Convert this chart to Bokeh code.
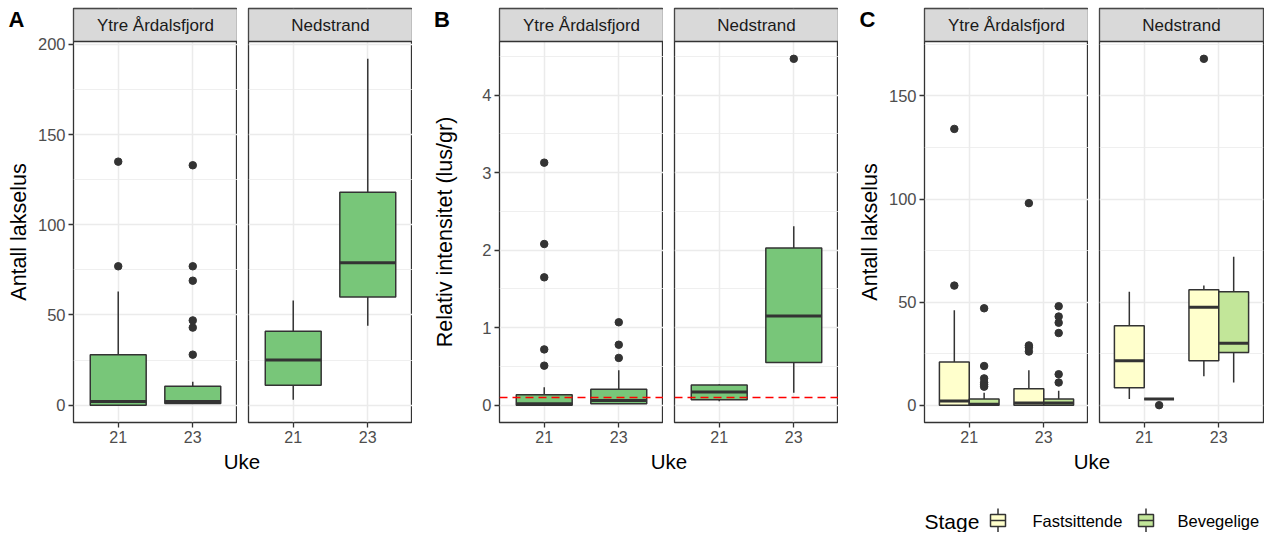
import math
from bokeh.plotting import figure
from bokeh.layouts import row, column
from bokeh.models import Range1d, FixedTicker, LinearAxis, Grid, ColumnDataSource, Span
from bokeh.core.properties import value
from bokeh.embed import file_html
from bokeh.resources import INLINE

FONT = "Liberation Sans"

# ---------------- data ----------------
FACETS = ["Ytre Årdalsfjord", "Nedstrand"]
WEEKS = ["21", "23"]
STAGES = ["Fastsittende", "Bevegelige"]

# Panel A: Antall lakselus
a_facet = ["Ytre Årdalsfjord", "Ytre Årdalsfjord", "Nedstrand", "Nedstrand"]
a_week = ["21", "23", "21", "23"]
a_lower = [0, 1, 3, 44]
a_q1 = [0, 1, 11, 60]
a_median = [2, 2, 25, 79]
a_q3 = [28, 10.5, 41, 118]
a_upper = [63, 13, 58, 192]
a_out_facet = ["Ytre Årdalsfjord"] * 8
a_out_week = ["21", "21", "23", "23", "23", "23", "23", "23"]
a_out_value = [77, 135, 28, 43, 47, 69, 77, 133]
a_yticks = [0, 50, 100, 150, 200]
a_yminor = [25, 75, 125, 175]

# Panel B: Relativ intensitet (lus/gr)
b_facet = ["Ytre Årdalsfjord", "Ytre Årdalsfjord", "Nedstrand", "Nedstrand"]
b_week = ["21", "23", "21", "23"]
b_lower = [0, 0.02, 0.05, 0.16]
b_q1 = [0, 0.02, 0.07, 0.55]
b_median = [0.02, 0.06, 0.17, 1.15]
b_q3 = [0.135, 0.205, 0.26, 2.03]
b_upper = [0.23, 0.45, 0.27, 2.31]
b_out_facet = ["Ytre Årdalsfjord"] * 8 + ["Nedstrand"]
b_out_week = ["21"] * 5 + ["23"] * 3 + ["23"]
b_out_value = [0.51, 0.72, 1.65, 2.08, 3.13, 0.61, 0.78, 1.07, 4.47]
b_threshold = 0.1
b_yticks = [0, 1, 2, 3, 4]
b_yminor = [0.5, 1.5, 2.5, 3.5, 4.5]

# Panel C: Antall lakselus by stage
c_facet = ["Ytre Årdalsfjord"] * 4 + ["Nedstrand"] * 4
c_week = ["21", "21", "23", "23", "21", "21", "23", "23"]
c_stage = ["Fastsittende", "Bevegelige"] * 4
c_lower = [0, 0, 0, 0, 3, 3, 14, 11]
c_q1 = [0, 0, 0, 0, 8.5, 3, 21.5, 25.5]
c_median = [2, 0.5, 1, 1, 21.5, 3, 47.5, 30]
c_q3 = [21, 3, 8, 3, 38.5, 3, 56, 55]
c_upper = [46, 6, 17, 7, 55, 3, 58, 72]
c_out_facet = ["Ytre Årdalsfjord"] * 18 + ["Nedstrand"] * 2
c_out_week = ["21"] * 8 + ["23"] * 10 + ["21", "23"]
c_out_stage = (["Fastsittende"] * 2 + ["Bevegelige"] * 6 + ["Fastsittende"] * 4
               + ["Bevegelige"] * 6 + ["Bevegelige", "Fastsittende"])
c_out_value = [58, 134, 9, 10, 11, 13, 19, 47, 26, 28, 29, 98,
               11, 15, 35, 40, 43, 48, 0, 168]
c_yticks = [0, 50, 100, 150]
c_yminor = [25, 75, 125, 175]

# ---------------- styling / layout ----------------
GREEN = "#78C679"
STAGE_COLORS = {"Fastsittende": "#FFFFCC", "Bevegelige": "#C2E699"}
STAGE_OFFSET = {"Fastsittende": -0.2, "Bevegelige": 0.2}
EDGE = "#333333"
GRIDC = "#EBEBEB"
STRIPC = "#D9D9D9"
WEEK_POS = {w: i + 1 for i, w in enumerate(WEEKS)}
X0, X1 = 0.4, 2.6

TOP = 8
FRAME_W = 164
STRIP_H = 33
PANEL_H = 381
AXIS_B = 26
BOTTOM_H = 84
GAP = 11
FULL_H = STRIP_H + PANEL_H


def base_fig(w, h, xr, yr, **kw):
    f = figure(frame_width=w, frame_height=h, x_range=xr, y_range=yr,
               x_axis_type=None, y_axis_type=None, output_backend="svg", toolbar_location=None, **kw)
    f.background_fill_color = "white"
    f.border_fill_color = "white"
    return f


def data_limits(lower, upper, outs):
    lo = min(list(lower) + list(outs))
    hi = max(list(upper) + list(outs))
    pad = (hi - lo) * 0.05
    return lo - pad, hi + pad


def style_axis(ax):
    ax.axis_line_color = None
    ax.major_tick_line_color = EDGE
    ax.major_tick_line_width = 1.3
    ax.major_tick_out = 5
    ax.major_tick_in = 0
    ax.minor_tick_line_color = None
    ax.major_label_text_font = FONT
    ax.major_label_text_font_size = "16.5px"
    ax.major_label_text_color = "#4D4D4D"
    ax.major_label_standoff = 3


def make_left(width, ylabel, title_x, letter, letter_x):
    # letter and y-axis title column (pixel coordinates, frame aligned with the panels)
    f = base_fig(width, FULL_H, Range1d(0, width), Range1d(0, FULL_H), min_border_left=0,
                 min_border_right=0, min_border_top=TOP, min_border_bottom=AXIS_B)
    f.outline_line_color = None
    f.text(x=[letter_x], y=[FULL_H - 11], text=[letter], text_align="left", text_baseline="middle",
           text_font=value(FONT), text_font_size="22px", text_font_style="bold", text_color="black")
    f.text(x=[title_x], y=[PANEL_H / 2], text=[ylabel], angle=math.pi / 2, text_align="center",
           text_baseline="middle", text_font=value(FONT), text_font_size="21.5px", text_color="black")
    return f


def make_panel(left, right, lims, yticks, yminor, facet, show_y):
    lo, hi = lims
    top = hi + STRIP_H * (hi - lo) / PANEL_H
    p = base_fig(FRAME_W, FULL_H, Range1d(X0, X1), Range1d(lo, top),
                 min_border_left=left, min_border_right=right,
                 min_border_top=TOP, min_border_bottom=AXIS_B)
    p.outline_line_color = EDGE
    p.outline_line_width = 1.3
    xt = FixedTicker(ticks=[WEEK_POS[w] for w in WEEKS])
    p.add_layout(Grid(dimension=0, ticker=xt, grid_line_color=GRIDC, grid_line_width=1.5), "center")
    p.add_layout(Grid(dimension=1, ticker=FixedTicker(ticks=yticks, minor_ticks=yminor),
                      grid_line_color=GRIDC, grid_line_width=1.5,
                      minor_grid_line_color=GRIDC, minor_grid_line_width=0.8), "center")
    # facet strip on top of the panel
    p.quad(left=[X0], right=[X1], bottom=[hi], top=[top], fill_color=STRIPC,
           line_color=EDGE, line_width=1.3)
    p.text(x=[(X0 + X1) / 2], y=[(hi + top) / 2], text=[facet], text_align="center",
           text_baseline="middle", text_font=value(FONT), text_font_size="17px", text_color="#1A1A1A")
    xa = LinearAxis(ticker=xt, major_label_overrides={WEEK_POS[w]: w for w in WEEKS})
    style_axis(xa)
    xa.major_label_text_font_size = "16px"
    p.add_layout(xa, "below")
    if show_y:
        ya = LinearAxis(ticker=FixedTicker(ticks=yticks))
        style_axis(ya)
        p.add_layout(ya, "left")
    return p


def draw_boxes(p, facet, facets, weeks, lower, q1, median, q3, upper,
               out_facets, out_weeks, out_values, stages=None, out_stages=None):
    idx = [i for i, f in enumerate(facets) if f == facet]
    width = 0.4 if stages else 0.75
    xs, fills = [], []
    for i in idx:
        x = WEEK_POS[weeks[i]]
        if stages:
            x += STAGE_OFFSET[stages[i]]
            fills.append(STAGE_COLORS[stages[i]])
        else:
            fills.append(GREEN)
        xs.append(x)
    src = ColumnDataSource(dict(
        x=xs, left=[x - width / 2 for x in xs], right=[x + width / 2 for x in xs],
        lower=[lower[i] for i in idx], q1=[q1[i] for i in idx], median=[median[i] for i in idx],
        q3=[q3[i] for i in idx], upper=[upper[i] for i in idx], fill=fills))
    p.segment(x0="x", x1="x", y0="q3", y1="upper", source=src, line_color=EDGE, line_width=1.5)
    p.segment(x0="x", x1="x", y0="lower", y1="q1", source=src, line_color=EDGE, line_width=1.5)
    p.quad(left="left", right="right", bottom="q1", top="q3", source=src, fill_color="fill",
           line_color=EDGE, line_width=1.5)
    p.segment(x0="left", x1="right", y0="median", y1="median", source=src, line_color=EDGE, line_width=3)
    oidx = [i for i, f in enumerate(out_facets) if f == facet]
    ox = []
    for i in oidx:
        x = WEEK_POS[out_weeks[i]]
        if out_stages:
            x += STAGE_OFFSET[out_stages[i]]
        ox.append(x)
    p.scatter(x=ox, y=[out_values[i] for i in oidx], size=7.5, color=EDGE)


def make_bottom(width, uke_x, legend=False):
    b = base_fig(width, BOTTOM_H, Range1d(0, width), Range1d(0, BOTTOM_H), min_border=0)
    b.outline_line_color = None
    b.text(x=[uke_x], y=[BOTTOM_H - 13], text=["Uke"], text_align="center", text_baseline="middle",
           text_font=value(FONT), text_font_size="20.5px", text_color="black")
    if legend:
        yc = 12
        b.text(x=[86], y=[yc - 0.5], text=["Stage"], text_align="left", text_baseline="middle",
               text_font=value(FONT), text_font_size="21px", text_color="black")
        key_left = [152, 300]
        lab_left = [194, 339]
        for st, kl, ll in zip(STAGES, key_left, lab_left):
            kc = kl + 7.5
            b.segment(x0=[kc], x1=[kc], y0=[yc - 12], y1=[yc + 12], line_color=EDGE, line_width=1.5)
            b.quad(left=[kl], right=[kl + 15], bottom=[yc - 6], top=[yc + 6], fill_color=STAGE_COLORS[st],
                   line_color=EDGE, line_width=1.5)
            b.segment(x0=[kl], x1=[kl + 15], y0=[yc], y1=[yc], line_color=EDGE, line_width=1.5)
            b.text(x=[ll], y=[yc], text=[st], text_align="left", text_baseline="middle",
                   text_font=value(FONT), text_font_size="16.5px", text_color="black")
    return b


def build_group(letter, letter_x, title_w, title_x, left_border, right_border2, data, lims, yticks,
                yminor, ylabel, stages=None, out_stages=None, span=None, legend=False):
    facets, weeks, lower, q1, median, q3, upper, of, ow, ov = data
    lc = make_left(title_w, ylabel, title_x, letter, letter_x)
    p1 = make_panel(left_border, 0, lims, yticks, yminor, FACETS[0], True)
    p2 = make_panel(GAP, right_border2, lims, yticks, yminor, FACETS[1], False)
    for p, fac in ((p1, FACETS[0]), (p2, FACETS[1])):
        draw_boxes(p, fac, facets, weeks, lower, q1, median, q3, upper, of, ow, ov, stages, out_stages)
        if span is not None:
            p.add_layout(Span(location=span, dimension="width", line_color="red",
                              line_dash="8 5", line_width=1.5))
    total = title_w + left_border + FRAME_W + GAP + FRAME_W + right_border2
    uke_x = title_w + left_border + FRAME_W + GAP / 2
    b = make_bottom(total, uke_x, legend)
    return column(row(lc, p1, p2), b)


ga = build_group("A", 8, 34, 18, 38, 0,
                 (a_facet, a_week, a_lower, a_q1, a_median, a_q3, a_upper, a_out_facet, a_out_week, a_out_value),
                 data_limits(a_lower, a_upper, a_out_value), a_yticks, a_yminor, "Antall lakselus")
gb = build_group("B", 21.5, 48, 32, 39, 0,
                 (b_facet, b_week, b_lower, b_q1, b_median, b_q3, b_upper, b_out_facet, b_out_week, b_out_value),
                 data_limits(b_lower, b_upper, b_out_value), b_yticks, b_yminor, "Relativ intensitet (lus/gr)",
                 span=b_threshold)
gc = build_group("C", 21, 47, 31, 37, 1,
                 (c_facet, c_week, c_lower, c_q1, c_median, c_q3, c_upper, c_out_facet, c_out_week, c_out_value),
                 data_limits(c_lower, c_upper, c_out_value), c_yticks, c_yminor, "Antall lakselus",
                 stages=c_stage, out_stages=c_out_stage, legend=True)

layout = row(ga, gb, gc)
open("out.html", "w").write(file_html(layout, INLINE))
